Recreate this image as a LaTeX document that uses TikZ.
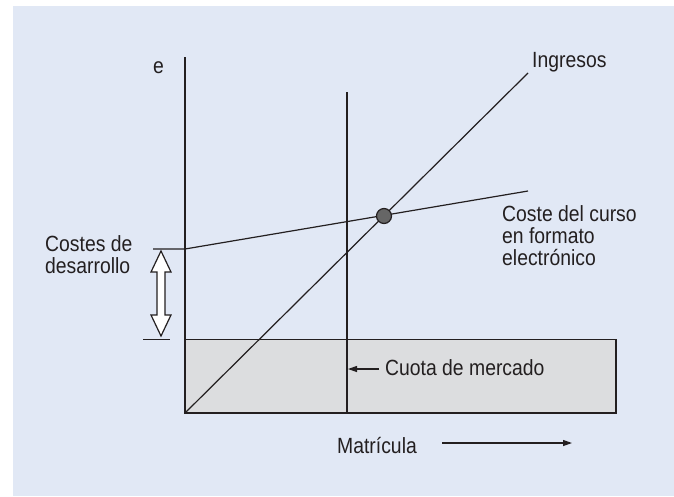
\documentclass[tikz,border=0pt]{standalone}
\usepackage{fontspec}
\setmainfont{Liberation Sans}[FakeStretch=0.88]
\usetikzlibrary{arrows.meta}
\definecolor{bgblue}{HTML}{E1E8F5}
\definecolor{boxgray}{HTML}{DCDDDF}
\definecolor{ink}{HTML}{231F20}
\definecolor{dotgray}{HTML}{666666}
\tikzset{
  lbl/.style={anchor=base west, inner sep=0pt, text=ink, font=\fontsize{22}{22}\selectfont, align=left},
  ln/.style={draw=ink, line width=1.2pt},
  arr/.style={ln, -{Triangle[length=9pt,width=6pt]}},
}
\begin{document}
\begin{tikzpicture}[x=1pt,y=-1pt]
\useasboundingbox (0,0) rectangle (674,496);
\fill[bgblue] (13,6) rectangle (674,496);
% gray box
\draw[ln, fill=boxgray] (185,339.5) rectangle (616,413);
% coordinates
\coordinate (O) at (185,413);
\coordinate (ytop) at (185,57);
\coordinate (mtop) at (347,92);
\coordinate (mbot) at (347,413);
\coordinate (ingend) at (528,73);
\coordinate (cstart) at (185,249);
\coordinate (cend) at (528,191);
\coordinate (tickA) at (153,249);
\coordinate (tickB1) at (143,339.5);
\coordinate (tickB2) at (170,339.5);
% axes and lines
\draw[ln] (O) -- (ytop);
\draw[ln] (mbot) -- (mtop);
\draw[ln] (O) -- (ingend);
\draw[ln] (tickA) -- (cstart) -- (cend);
\draw[ln] (tickB1) -- (tickB2);
% break-even dot
\node[circle, draw=ink, line width=1.2pt, fill=dotgray, minimum size=15pt, inner sep=0pt] (dot) at (384,216) {};
% double arrow
\draw[ln, fill=white, line join=miter]
  (161,251) -- (171,272) -- (165,272) -- (165,315) -- (171,315) -- (161,336)
  -- (151,315) -- (157,315) -- (157,272) -- (151,272) -- cycle;
% labels
\node[lbl] (e) at (153,73) {e};
\node[lbl] (ing) at (532,67) {Ingresos};
\node[lbl] (costes) at (45,273) {Costes de\\desarrollo};
\node[lbl] (coste) at (502,265) {Coste del curso\\en formato\\electrónico};
\node[lbl] (cuota) at (385,375) {Cuota de mercado};
\node[lbl] (matr) at (337,453) {Matrícula};
% arrows
\coordinate (cuotaend) at (348,369);
\draw[arr] (cuota.west |- 0,369) ++(-6,0) -- (cuotaend);
\coordinate (mA) at (442,443);
\coordinate (mB) at (572,443);
\draw[arr] (mA) -- (mB);
\end{tikzpicture}
\end{document}
